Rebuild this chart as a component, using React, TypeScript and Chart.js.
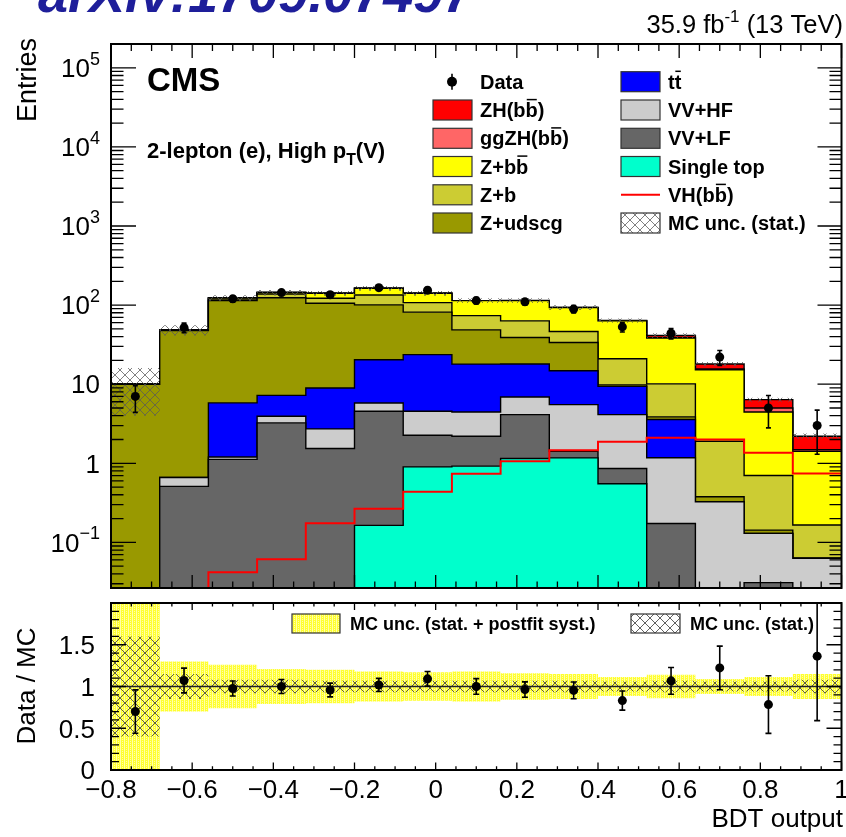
import React, { useEffect, useRef } from 'react';
import { Chart, registerables } from 'chart.js';

Chart.register(...registerables);

const FONT = "'Liberation Sans', Arial, Helvetica, sans-serif";

// ---- Binning (BDT output) ----
const binEdges = [-0.8, -0.68, -0.56, -0.44, -0.32, -0.2, -0.08, 0.04, 0.16, 0.28, 0.4, 0.52, 0.64, 0.76, 0.88, 1.0];
const binCenters = [-0.74, -0.62, -0.5, -0.38, -0.26, -0.14, -0.02, 0.1, 0.22, 0.34, 0.46, 0.58, 0.7, 0.82, 0.94];

// ---- Stacked MC components (bottom of stack first) ----
const singleTop = [0, 0, 0, 0, 0, 0.164, 0.9, 0.92, 1.15, 1.17, 0.55, 0, 0, 0, 0];
const vvLF = [0, 0.51, 1.12, 3.24, 1.54, 4.38, 1.36, 1.28, 2.97, 0.25, 0.31, 0.173, 0, 0.031, 0];
const vvHF = [0, 0.15, 0.08, 0.69, 1.18, 1.25, 2.28, 2.26, 2.78, 4.09, 3.26, 1.0, 0.327, 0.099, 0.063];
const ttbar = [0, 0, 4.6, 3.29, 6.24, 14.6, 19.1, 13.5, 11.1, 9.3, 5.26, 2.4, 0, 0, 0];
const zUdscg = [10, 46.84, 108.2, 116.8, 96.7, 80.2, 57.8, 30.7, 20.9, 18.9, 0.42, 0.29, 0.051, 0.013, 0];
const zB = [0, 0.5, 5, 14, 16.3, 33.4, 26.1, 25, 24.3, 12.6, 11.2, 6.24, 1.52, 0.557, 0.103];
const zBB = [0, 0.5, 4, 6, 19, 29, 33.5, 40.3, 50.8, 46.7, 42.2, 28.2, 13.3, 3.76, 1.254];
const ggZH = [0, 0, 0, 0, 0, 0, 0, 0, 0.02, 0.03, 0.05, 0.3, 0.4, 0.54, 0.07];
const zhBB = [0, 0, 0, 0, 0, 0, 0, 0, 0.2, 0.3, 0.5, 2.6, 2.4, 1.38, 0.71];

// ---- VH(bb) signal line (unstacked) ----
const vhLine = [0.02, 0.022, 0.042, 0.061, 0.174, 0.267, 0.437, 0.737, 1.06, 1.46, 1.87, 2.1, 2.0, 1.36, 0.744];

// ---- Data ----
const dataCounts = [7, 52, 120, 144, 135, 166, 154, 114, 110, 89, 53, 44, 22, 5, 3];
const dataErrors = [2.6, 7.2, 11.0, 12.0, 11.6, 12.9, 12.4, 10.7, 10.5, 9.4, 7.3, 6.6, 4.7, 2.2, 1.7];

// ---- Relative uncertainties ----
const mcStatRel = [0.6, 0.15, 0.08, 0.08, 0.07, 0.07, 0.07, 0.07, 0.07, 0.07, 0.06, 0.07, 0.06, 0.06, 0.08];
const mcSystRel = [1.2, 0.3, 0.26, 0.21, 0.2, 0.18, 0.17, 0.18, 0.16, 0.15, 0.115, 0.14, 0.09, 0.115, 0.15];

// ---- Axis / tick labels ----
const yMin = 0.0265;
const yMax = 2.0e5;
const logTickExponents = [-1, 0, 1, 2, 3, 4, 5];
const ratioTickValues = [0, 0.5, 1, 1.5];
const ratioTickLabels = ['0', '0.5', '1', '1.5'];
const xTickValues = [-0.8, -0.6, -0.4, -0.2, 0, 0.2, 0.4, 0.6, 0.8, 1.0];
const xTickLabels = ['\u22120.8', '\u22120.6', '\u22120.4', '\u22120.2', '0', '0.2', '0.4', '0.6', '0.8', '1'];

const stackOrder = [
  { label: 'Single top', values: singleTop, color: '#00ffcc' },
  { label: 'VV+LF', values: vvLF, color: '#666666' },
  { label: 'VV+HF', values: vvHF, color: '#cccccc' },
  { label: 'tt', values: ttbar, color: '#0000ff' },
  { label: 'Z+udscg', values: zUdscg, color: '#999900' },
  { label: 'Z+b', values: zB, color: '#cccc33' },
  { label: 'Z+bb', values: zBB, color: '#ffff00' },
  { label: 'ggZH(bb)', values: ggZH, color: '#ff6666' },
  { label: 'ZH(bb)', values: zhBB, color: '#ff0000' },
];

function histPoints(vals: number[], floor: number) {
  const pts: { x: number; y: number }[] = [];
  for (let i = 0; i < vals.length; i++) {
    const v = Math.max(vals[i], floor);
    pts.push({ x: binEdges[i], y: v });
    pts.push({ x: binEdges[i + 1], y: v });
  }
  return pts;
}

function makeHatch(color: string) {
  const c = document.createElement('canvas');
  const n = 10;
  c.width = n;
  c.height = n;
  const g = c.getContext('2d') as CanvasRenderingContext2D;
  g.strokeStyle = color;
  g.lineWidth = 0.9;
  g.beginPath();
  g.moveTo(0, 0);
  g.lineTo(n, n);
  g.moveTo(n, 0);
  g.lineTo(0, n);
  g.stroke();
  return g.createPattern(c, 'repeat') as CanvasPattern;
}

function makeYellow() {
  const c = document.createElement('canvas');
  c.width = 4;
  c.height = 4;
  const g = c.getContext('2d') as CanvasRenderingContext2D;
  g.fillStyle = '#ffff30';
  g.fillRect(0, 0, 4, 4);
  g.fillStyle = '#ffffa8';
  g.fillRect(0, 0, 1, 4);
  g.fillRect(2, 1, 1, 1);
  g.fillRect(2, 3, 1, 1);
  return g.createPattern(c, 'repeat') as CanvasPattern;
}

type Part = { t: string; over?: boolean; sub?: boolean };

function drawParts(ctx: CanvasRenderingContext2D, x: number, y: number, parts: Part[], size: number, bold: boolean) {
  let cx = x;
  for (const p of parts) {
    const s = p.sub ? size * 0.72 : size;
    ctx.font = `${bold ? 'bold ' : ''}${s}px ${FONT}`;
    const w = ctx.measureText(p.t).width;
    const yy = p.sub ? y + size * 0.3 : y;
    ctx.fillText(p.t, cx, yy);
    if (p.over) {
      ctx.save();
      ctx.lineWidth = Math.max(1.2, size * 0.075);
      ctx.strokeStyle = ctx.fillStyle as string;
      ctx.beginPath();
      ctx.moveTo(cx + w * 0.1, yy - size * 0.87);
      ctx.lineTo(cx + w * 0.92, yy - size * 0.87);
      ctx.stroke();
      ctx.restore();
    }
    cx += w;
  }
  return cx - x;
}

function drawErrorBars(chart: any, xs: number[], ys: number[], errs: number[], cap: number) {
  const ctx = chart.ctx as CanvasRenderingContext2D;
  const a = chart.chartArea;
  const sx = chart.scales.x;
  const sy = chart.scales.y;
  ctx.save();
  ctx.beginPath();
  ctx.rect(a.left, a.top, a.right - a.left, a.bottom - a.top);
  ctx.clip();
  ctx.strokeStyle = '#000';
  ctx.lineWidth = 1.6;
  ctx.beginPath();
  for (let i = 0; i < xs.length; i++) {
    const px = sx.getPixelForValue(xs[i]);
    const yHi = sy.getPixelForValue(ys[i] + errs[i]);
    const yLo = sy.getPixelForValue(Math.max(ys[i] - errs[i], 1e-6));
    ctx.moveTo(px, yHi);
    ctx.lineTo(px, yLo);
    ctx.moveTo(px - cap, yHi);
    ctx.lineTo(px + cap, yHi);
    ctx.moveTo(px - cap, yLo);
    ctx.lineTo(px + cap, yLo);
  }
  ctx.stroke();
  ctx.restore();
}

function drawXTicks(ctx: CanvasRenderingContext2D, chart: any, majorTop: number, minorTop: number, majorBot: number, minorBot: number) {
  const a = chart.chartArea;
  const xs = chart.scales.x;
  for (let i = 0; i <= 36; i++) {
    const v = -0.8 + i * 0.05;
    const px = xs.getPixelForValue(v);
    const major = i % 4 === 0;
    const lt = major ? majorTop : minorTop;
    const lb = major ? majorBot : minorBot;
    ctx.moveTo(px, a.bottom);
    ctx.lineTo(px, a.bottom - lb);
    ctx.moveTo(px, a.top);
    ctx.lineTo(px, a.top + lt);
  }
}

export default function App() {
  const topRef = useRef<HTMLCanvasElement>(null);
  const botRef = useRef<HTMLCanvasElement>(null);

  useEffect(() => {
    const hatchTop = makeHatch('rgba(90,90,90,0.85)');
    const hatchRatio = makeHatch('rgba(60,60,60,0.9)');
    const yellow = makeYellow();

    // cumulative stack
    const cumulative: number[][] = [];
    let run = binCenters.map(() => 0);
    for (const comp of stackOrder) {
      run = run.map((r, i) => r + comp.values[i]);
      cumulative.push(run);
    }
    const mcTotal = run;

    const stackDatasets = stackOrder.map((comp, k) => ({
      label: comp.label,
      data: histPoints(cumulative[k], 1e-4),
      borderColor: '#000',
      borderWidth: 1.4,
      backgroundColor: comp.color,
      fill: k === 0 ? 'start' : '-1',
      pointRadius: 0,
      order: 10,
    }));

    const topDatasets: any[] = [
      ...stackDatasets,
      {
        label: 'MC unc lo',
        data: histPoints(mcTotal.map((t, i) => t * (1 - mcStatRel[i])), 1e-4),
        borderWidth: 0,
        fill: false,
        pointRadius: 0,
        order: -1,
      },
      {
        label: 'MC unc. (stat.)',
        data: histPoints(mcTotal.map((t, i) => t * (1 + mcStatRel[i])), 1e-4),
        borderWidth: 0,
        backgroundColor: hatchTop,
        fill: '-1',
        pointRadius: 0,
        order: -1,
      },
      {
        label: 'VH(bb)',
        data: histPoints(vhLine.map((v) => Math.max(v, yMin)), 1e-4),
        borderColor: '#ff0000',
        borderWidth: 2,
        fill: false,
        pointRadius: 0,
        order: -2,
      },
      {
        label: 'Data',
        data: binCenters.map((x, i) => ({ x, y: dataCounts[i] })),
        showLine: false,
        pointRadius: 4.5,
        pointBackgroundColor: '#000',
        pointBorderColor: '#000',
        pointBorderWidth: 0,
        order: -3,
      },
    ];

    const topDecor = {
      id: 'topDecor',
      afterDatasetsDraw(chart: any) {
        drawErrorBars(chart, binCenters, dataCounts, dataErrors, 2.5);
      },
      afterDraw(chart: any) {
        const ctx = chart.ctx as CanvasRenderingContext2D;
        const a = chart.chartArea;
        const ys = chart.scales.y;
        ctx.save();
        // ticks
        ctx.strokeStyle = '#000';
        ctx.lineWidth = 1.3;
        ctx.beginPath();
        drawXTicks(ctx, chart, 14, 7, 13, 6.5);
        for (let e = -2; e <= 5; e++) {
          for (let m = 1; m <= 9; m++) {
            const v = m * Math.pow(10, e);
            if (v < yMin || v > yMax) continue;
            const py = ys.getPixelForValue(v);
            const L = m === 1 ? 25 : 12.5;
            const Lr = m === 1 ? 24 : 12;
            ctx.moveTo(a.left, py);
            ctx.lineTo(a.left + L, py);
            ctx.moveTo(a.right, py);
            ctx.lineTo(a.right - Lr, py);
          }
        }
        ctx.stroke();
        ctx.lineWidth = 2;
        ctx.strokeRect(a.left, a.top, a.right - a.left, a.bottom - a.top);

        // y labels
        ctx.fillStyle = '#000';
        ctx.textBaseline = 'alphabetic';
        ctx.textAlign = 'left';
        for (const e of logTickExponents) {
          const py = ys.getPixelForValue(Math.pow(10, e));
          const main = e === 0 ? '1' : '10';
          const sup = e === 0 || e === 1 ? '' : e < 0 ? '\u2212' + String(-e) : String(e);
          ctx.font = `26px ${FONT}`;
          const wm = ctx.measureText(main).width;
          ctx.font = `18px ${FONT}`;
          const ws = sup ? ctx.measureText(sup).width : 0;
          const x0 = 100 - wm - ws;
          ctx.font = `26px ${FONT}`;
          ctx.fillText(main, x0, py + 9.3);
          if (sup) {
            ctx.font = `18px ${FONT}`;
            ctx.fillText(sup, x0 + wm, py - 3);
          }
        }

        // Entries
        ctx.save();
        ctx.translate(36, 38);
        ctx.rotate(-Math.PI / 2);
        ctx.textAlign = 'right';
        ctx.font = `27px ${FONT}`;
        ctx.fillText('Entries', 0, 0);
        ctx.restore();

        // watermark
        ctx.font = `italic bold 54px ${FONT}`;
        ctx.fillStyle = '#1e1e9a';
        ctx.textAlign = 'left';
        ctx.fillText('arXiv:1709.07497', 38, 12);

        // lumi
        ctx.fillStyle = '#000';
        ctx.font = `25.5px ${FONT}`;
        const p1 = '35.9 fb';
        const p3 = ' (13 TeV)';
        const w1 = ctx.measureText(p1).width;
        const w3 = ctx.measureText(p3).width;
        ctx.font = `17px ${FONT}`;
        const p2 = '-1';
        const w2 = ctx.measureText(p2).width;
        let lx = 843 - w1 - w2 - w3;
        ctx.font = `25.5px ${FONT}`;
        ctx.fillText(p1, lx, 33);
        ctx.font = `17px ${FONT}`;
        ctx.fillText(p2, lx + w1, 22);
        ctx.font = `25.5px ${FONT}`;
        ctx.fillText(p3, lx + w1 + w2, 33);

        // CMS + category
        ctx.font = `bold 33px ${FONT}`;
        ctx.fillText('CMS', 147, 91);
        drawParts(ctx, 147, 158, [{ t: '2-lepton (e), High p' }, { t: 'T', sub: true }, { t: '(V)' }], 22, true);

        // legend
        const rows = [81.7, 110, 138.3, 166.5, 194.8, 223];
        const boxW = 39;
        const boxH = 20;
        const drawBox = (x: number, yc: number, fill: any) => {
          ctx.fillStyle = fill;
          ctx.fillRect(x, yc - boxH / 2, boxW, boxH);
          ctx.strokeStyle = '#333';
          ctx.lineWidth = 1.2;
          ctx.strokeRect(x, yc - boxH / 2, boxW, boxH);
        };
        const lx1 = 433;
        const tx1 = 480;
        const lx2 = 621;
        const tx2 = 668;
        const ts = 20;
        // Data marker
        ctx.fillStyle = '#000';
        ctx.strokeStyle = '#000';
        ctx.lineWidth = 1.6;
        ctx.beginPath();
        ctx.moveTo(452, rows[0] - 8);
        ctx.lineTo(452, rows[0] + 8);
        ctx.stroke();
        ctx.beginPath();
        ctx.arc(452, rows[0], 5, 0, Math.PI * 2);
        ctx.fill();
        const leftItems: [any, Part[]][] = [
          [null, [{ t: 'Data' }]],
          [stackOrder[8].color, [{ t: 'ZH(b' }, { t: 'b', over: true }, { t: ')' }]],
          [stackOrder[7].color, [{ t: 'ggZH(b' }, { t: 'b', over: true }, { t: ')' }]],
          [stackOrder[6].color, [{ t: 'Z+b' }, { t: 'b', over: true }]],
          [stackOrder[5].color, [{ t: 'Z+b' }]],
          [stackOrder[4].color, [{ t: 'Z+udscg' }]],
        ];
        leftItems.forEach(([col, parts], i) => {
          if (col) drawBox(lx1, rows[i], col);
          ctx.fillStyle = '#000';
          drawParts(ctx, tx1, rows[i] + 7, parts, ts, true);
        });
        const rightItems: [any, Part[]][] = [
          [stackOrder[3].color, [{ t: 't' }, { t: 't', over: true }]],
          [stackOrder[2].color, [{ t: 'VV+HF' }]],
          [stackOrder[1].color, [{ t: 'VV+LF' }]],
          [stackOrder[0].color, [{ t: 'Single top' }]],
          ['line', [{ t: 'VH(b' }, { t: 'b', over: true }, { t: ')' }]],
          ['hatch', [{ t: 'MC unc. (stat.)' }]],
        ];
        rightItems.forEach(([col, parts], i) => {
          if (col === 'line') {
            ctx.strokeStyle = '#ff0000';
            ctx.lineWidth = 2;
            ctx.beginPath();
            ctx.moveTo(lx2, rows[i]);
            ctx.lineTo(lx2 + boxW, rows[i]);
            ctx.stroke();
          } else if (col === 'hatch') {
            ctx.fillStyle = '#fff';
            ctx.fillRect(lx2, rows[i] - boxH / 2, boxW, boxH);
            drawBox(lx2, rows[i], hatchTop);
          } else {
            drawBox(lx2, rows[i], col);
          }
          ctx.fillStyle = '#000';
          drawParts(ctx, tx2, rows[i] + 7, parts, ts, true);
        });
        ctx.restore();
      },
    };

    const topChart = new Chart(topRef.current as HTMLCanvasElement, {
      type: 'line',
      data: { datasets: topDatasets },
      options: {
        responsive: false,
        animation: false,
        devicePixelRatio: 1,
        layout: { padding: { left: 111, right: 2, top: 44, bottom: 10 } },
        scales: {
          x: { type: 'linear', min: -0.8, max: 1.0, display: false },
          y: { type: 'logarithmic', min: yMin, max: yMax, display: false },
        },
        plugins: { legend: { display: false }, tooltip: { enabled: false } },
        elements: { line: { tension: 0 } },
      } as any,
      plugins: [topDecor],
    });

    // ---- Ratio panel ----
    const ratio = dataCounts.map((d, i) => d / mcTotal[i]);
    const ratioErr = dataErrors.map((e, i) => e / mcTotal[i]);

    const ratioDatasets: any[] = [
      {
        label: 'syst lo',
        data: histPoints(mcSystRel.map((s) => 1 - s), -5),
        borderWidth: 0,
        fill: false,
        pointRadius: 0,
        order: 5,
      },
      {
        label: 'MC unc. (stat. + postfit syst.)',
        data: histPoints(mcSystRel.map((s) => 1 + s), -5),
        borderWidth: 0,
        backgroundColor: yellow,
        fill: '-1',
        pointRadius: 0,
        order: 5,
      },
      {
        label: 'stat lo',
        data: histPoints(mcStatRel.map((s) => 1 - s), -5),
        borderWidth: 0,
        fill: false,
        pointRadius: 0,
        order: 4,
      },
      {
        label: 'MC unc. (stat.)',
        data: histPoints(mcStatRel.map((s) => 1 + s), -5),
        borderWidth: 0,
        backgroundColor: hatchRatio,
        fill: '-1',
        pointRadius: 0,
        order: 4,
      },
      {
        label: 'unity',
        data: [
          { x: binEdges[0], y: 1 },
          { x: binEdges[binEdges.length - 1], y: 1 },
        ],
        borderColor: '#222',
        borderWidth: 1.5,
        fill: false,
        pointRadius: 0,
        order: 3,
      },
      {
        label: 'Data / MC',
        data: binCenters.map((x, i) => ({ x, y: ratio[i] })),
        showLine: false,
        pointRadius: 4.5,
        pointBackgroundColor: '#000',
        pointBorderColor: '#000',
        pointBorderWidth: 0,
        order: 1,
      },
    ];

    const botDecor = {
      id: 'botDecor',
      afterDatasetsDraw(chart: any) {
        drawErrorBars(chart, binCenters, ratio, ratioErr, 3);
      },
      afterDraw(chart: any) {
        const ctx = chart.ctx as CanvasRenderingContext2D;
        const a = chart.chartArea;
        const ys = chart.scales.y;
        const xs = chart.scales.x;
        ctx.save();
        ctx.strokeStyle = '#000';
        ctx.lineWidth = 1.3;
        ctx.beginPath();
        drawXTicks(ctx, chart, 7, 3.5, 7.5, 3.8);
        for (let i = 0; i <= 20; i++) {
          const v = i * 0.1;
          const py = ys.getPixelForValue(v);
          const major = i % 5 === 0;
          const L = major ? 15 : 8;
          ctx.moveTo(a.left, py);
          ctx.lineTo(a.left + L, py);
          ctx.moveTo(a.right, py);
          ctx.lineTo(a.right - L, py);
        }
        ctx.stroke();
        ctx.lineWidth = 2;
        ctx.strokeRect(a.left, a.top, a.right - a.left, a.bottom - a.top);

        ctx.fillStyle = '#000';
        ctx.font = `26px ${FONT}`;
        ctx.textBaseline = 'alphabetic';
        ctx.textAlign = 'right';
        ratioTickValues.forEach((v, i) => {
          const py = ys.getPixelForValue(v);
          ctx.fillText(ratioTickLabels[i], 95, py + 9.3);
        });
        ctx.textAlign = 'center';
        xTickValues.forEach((v, i) => {
          const px = xs.getPixelForValue(v);
          ctx.fillText(xTickLabels[i], px, 200);
        });
        ctx.textAlign = 'right';
        ctx.fillText('BDT output', 843, 229);

        ctx.save();
        ctx.translate(35, 88);
        ctx.rotate(-Math.PI / 2);
        ctx.textAlign = 'center';
        ctx.fillText('Data / MC', 0, 0);
        ctx.restore();

        // legend
        ctx.textAlign = 'left';
        ctx.fillStyle = yellow;
        ctx.fillRect(292, 16, 48, 19);
        ctx.strokeStyle = '#333';
        ctx.lineWidth = 1.2;
        ctx.strokeRect(292, 16, 48, 19);
        ctx.fillStyle = '#000';
        drawParts(ctx, 350, 32, [{ t: 'MC unc. (stat. + postfit syst.)' }], 18, true);
        ctx.fillStyle = '#fff';
        ctx.fillRect(631, 16, 49, 19);
        ctx.fillStyle = hatchRatio;
        ctx.fillRect(631, 16, 49, 19);
        ctx.strokeRect(631, 16, 49, 19);
        ctx.fillStyle = '#000';
        drawParts(ctx, 690, 32, [{ t: 'MC unc. (stat.)' }], 18, true);
        ctx.restore();
      },
    };

    const botChart = new Chart(botRef.current as HTMLCanvasElement, {
      type: 'line',
      data: { datasets: ratioDatasets },
      options: {
        responsive: false,
        animation: false,
        devicePixelRatio: 1,
        layout: { padding: { left: 111, right: 2, top: 5, bottom: 67 } },
        scales: {
          x: { type: 'linear', min: -0.8, max: 1.0, display: false },
          y: { type: 'linear', min: 0, max: 2, display: false },
        },
        plugins: { legend: { display: false }, tooltip: { enabled: false } },
        elements: { line: { tension: 0 } },
      } as any,
      plugins: [botDecor],
    });

    return () => {
      topChart.destroy();
      botChart.destroy();
    };
  }, []);

  return (
    <div style={{ position: 'absolute', left: 0, top: 0, width: 846, height: 837, background: '#fff', overflow: 'hidden' }}>
      <div style={{ position: 'absolute', left: 0, top: 0, width: 846, height: 598 }}>
        <canvas ref={topRef} width={846} height={598} style={{ display: 'block' }} />
      </div>
      <div style={{ position: 'absolute', left: 0, top: 598, width: 846, height: 239 }}>
        <canvas ref={botRef} width={846} height={239} style={{ display: 'block' }} />
      </div>
    </div>
  );
}
